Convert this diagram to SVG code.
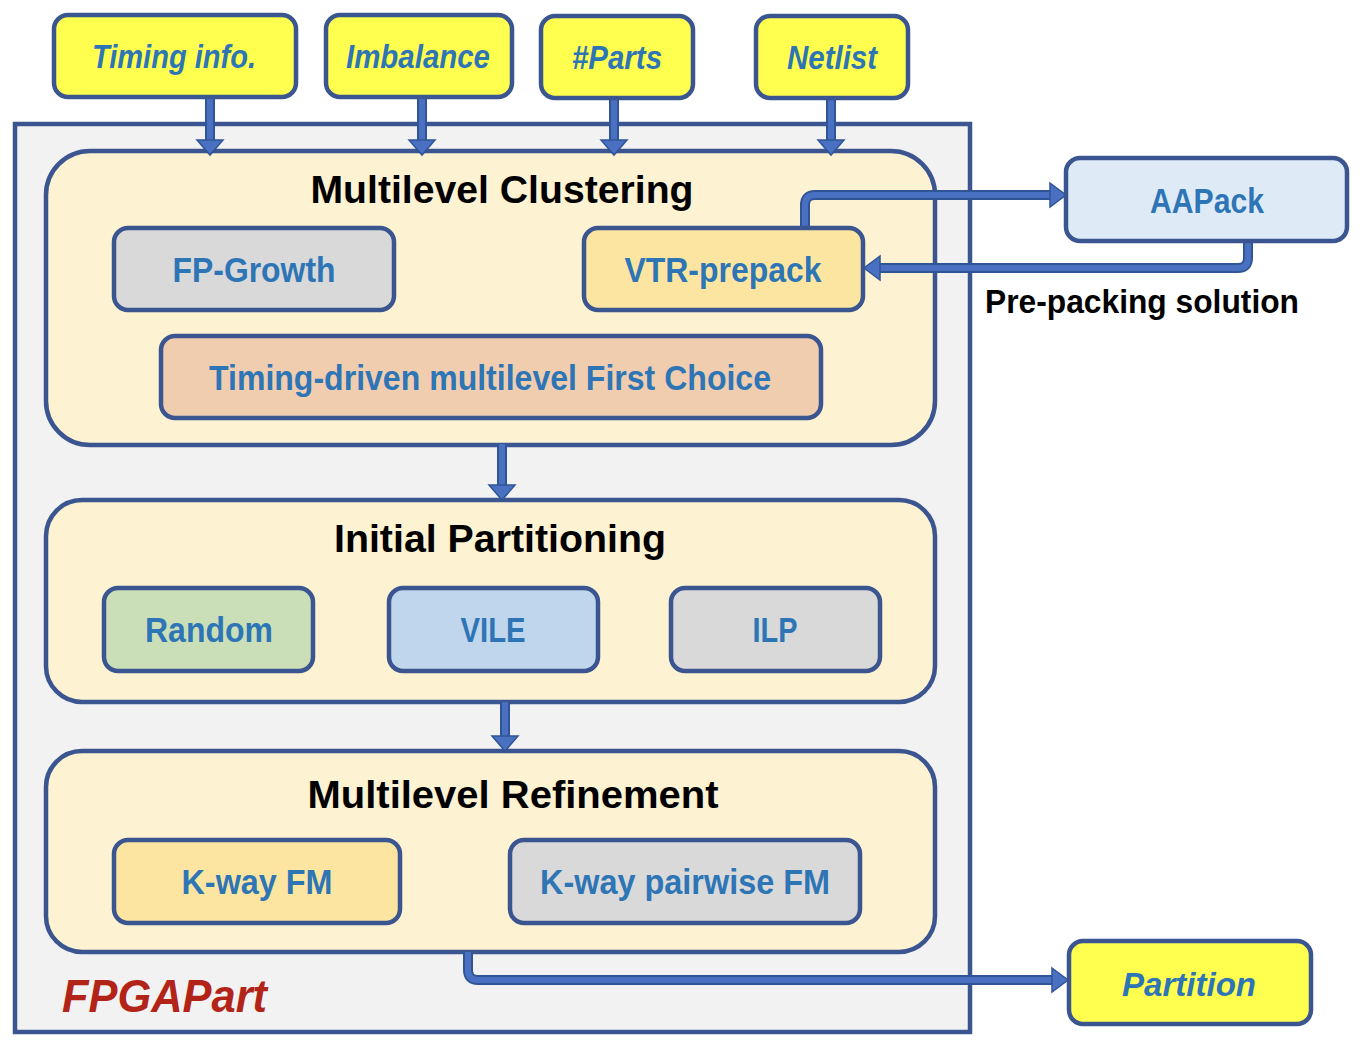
<svg xmlns="http://www.w3.org/2000/svg" width="1362" height="1050" viewBox="0 0 1362 1050">
<style>
.box{stroke:#3A5590;stroke-width:4.5}
.lbl{font-family:"Liberation Sans",Arial,sans-serif;font-weight:bold;fill:#2E75B6;text-anchor:middle}
.it{font-style:italic}
.ttl{font-family:"Liberation Sans",Arial,sans-serif;font-weight:bold;fill:#000;text-anchor:middle}
.cO{fill:none;stroke:#2F5597;stroke-width:10}
.cI{fill:none;stroke:#4A70C2;stroke-width:6}
.ah{fill:#4A70C2;stroke:#2F5597;stroke-width:1.5}
</style>
<rect width="1362" height="1050" fill="#FFFFFF"/>
<g id="fpgapart">
<rect x="15" y="124" width="955" height="908" fill="#F2F2F2" class="box"/>
<text x="62" y="1012" font-family="Liberation Sans,Arial,sans-serif" font-weight="bold" font-style="italic" font-size="46" fill="#B22418" textLength="205" lengthAdjust="spacingAndGlyphs">FPGAPart</text>
</g>
<g id="clustering">
<rect x="46" y="151" width="889" height="294" rx="44" fill="#FDF2D2" class="box"/>
<text x="502" y="203" class="ttl" font-size="38" textLength="383" lengthAdjust="spacingAndGlyphs">Multilevel Clustering</text>
</g>
<g id="initial">
<rect x="46" y="500" width="889" height="202" rx="36" fill="#FDF2D2" class="box"/>
<text x="500" y="552" class="ttl" font-size="38" textLength="332" lengthAdjust="spacingAndGlyphs">Initial Partitioning</text>
</g>
<g id="refinement">
<rect x="46" y="751" width="889" height="201" rx="36" fill="#FDF2D2" class="box"/>
<text x="513" y="808" class="ttl" font-size="38" textLength="411" lengthAdjust="spacingAndGlyphs">Multilevel Refinement</text>
</g>
<g id="connectors">
<path class="cO" d="M210 97V141M422 97V141M614 97V141M831 97V141M502 444V486M505 702V737"/>
<path class="cI" d="M210 97V141M422 97V141M614 97V141M831 97V141M502 444V486M505 702V737"/>
<path class="ah" d="M197 140H223L210 155Z"/>
<path class="ah" d="M409 140H435L422 155Z"/>
<path class="ah" d="M601 140H627L614 155Z"/>
<path class="ah" d="M818 140H844L831 155Z"/>
<path class="ah" d="M489 485H515L502 500Z"/>
<path class="ah" d="M492 736H518L505 751Z"/>
<path class="cO" d="M805 228V205Q805 195 815 195H1052"/>
<path class="cI" d="M805 228V205Q805 195 815 195H1052"/>
<path class="ah" d="M1050 183L1066 195L1050 207Z"/>
<path class="cO" d="M1248 241V258Q1248 268 1238 268H878"/>
<path class="cI" d="M1248 241V258Q1248 268 1238 268H878"/>
<path class="ah" d="M880 256L864 268L880 280Z"/>
<path class="cO" d="M468 952V970Q468 980 478 980H1054"/>
<path class="cI" d="M468 952V970Q468 980 478 980H1054"/>
<path class="ah" d="M1052 968L1068 980L1052 992Z"/>
</g>
<g id="timing-info">
<rect x="54" y="15" width="242" height="82" rx="14" fill="#FFFF4F" class="box"/>
<text x="174" y="68" class="lbl it" font-size="33" textLength="164" lengthAdjust="spacingAndGlyphs">Timing info.</text>
</g>
<g id="imbalance">
<rect x="326" y="15" width="186" height="82" rx="14" fill="#FFFF4F" class="box"/>
<text x="418" y="68" class="lbl it" font-size="33" textLength="144" lengthAdjust="spacingAndGlyphs">Imbalance</text>
</g>
<g id="parts">
<rect x="541" y="16" width="152" height="82" rx="14" fill="#FFFF4F" class="box"/>
<text x="617" y="69" class="lbl it" font-size="33" textLength="90" lengthAdjust="spacingAndGlyphs">#Parts</text>
</g>
<g id="netlist">
<rect x="756" y="16" width="152" height="82" rx="14" fill="#FFFF4F" class="box"/>
<text x="832" y="69" class="lbl it" font-size="33" textLength="90" lengthAdjust="spacingAndGlyphs">Netlist</text>
</g>
<g id="fp-growth">
<rect x="114" y="228" width="280" height="82" rx="14" fill="#D9D9D9" class="box"/>
<text x="254" y="282" class="lbl" font-size="35" textLength="163" lengthAdjust="spacingAndGlyphs">FP-Growth</text>
</g>
<g id="vtr-prepack">
<rect x="584" y="228" width="279" height="82" rx="14" fill="#FBE5A0" class="box"/>
<text x="723" y="282" class="lbl" font-size="35" textLength="197" lengthAdjust="spacingAndGlyphs">VTR-prepack</text>
</g>
<g id="first-choice">
<rect x="161" y="336" width="660" height="82" rx="14" fill="#F1CDB0" class="box"/>
<text x="490" y="390" class="lbl" font-size="35" textLength="562" lengthAdjust="spacingAndGlyphs">Timing-driven multilevel First Choice</text>
</g>
<g id="random">
<rect x="104" y="588" width="209" height="83" rx="14" fill="#CADFB8" class="box"/>
<text x="209" y="642" class="lbl" font-size="35" textLength="128" lengthAdjust="spacingAndGlyphs">Random</text>
</g>
<g id="vile">
<rect x="389" y="588" width="209" height="83" rx="14" fill="#C0D6EC" class="box"/>
<text x="493" y="642" class="lbl" font-size="35" textLength="65" lengthAdjust="spacingAndGlyphs">VILE</text>
</g>
<g id="ilp">
<rect x="671" y="588" width="209" height="83" rx="14" fill="#D9D9D9" class="box"/>
<text x="775" y="642" class="lbl" font-size="35" textLength="45" lengthAdjust="spacingAndGlyphs">ILP</text>
</g>
<g id="kway-fm">
<rect x="114" y="840" width="286" height="83" rx="14" fill="#FBE5A0" class="box"/>
<text x="257" y="894" class="lbl" font-size="35" textLength="151" lengthAdjust="spacingAndGlyphs">K-way FM</text>
</g>
<g id="kway-pairwise-fm">
<rect x="510" y="840" width="350" height="83" rx="14" fill="#D9D9D9" class="box"/>
<text x="685" y="894" class="lbl" font-size="35" textLength="290" lengthAdjust="spacingAndGlyphs">K-way pairwise FM</text>
</g>
<g id="aapack">
<rect x="1066" y="158" width="281" height="83" rx="14" fill="#DEEBF7" class="box"/>
<text x="1207" y="213" class="lbl" font-size="35" textLength="114" lengthAdjust="spacingAndGlyphs">AAPack</text>
</g>
<g id="partition">
<rect x="1069" y="941" width="242" height="83" rx="14" fill="#FFFF4F" class="box"/>
<text x="1189" y="996" class="lbl it" font-size="33" textLength="134" lengthAdjust="spacingAndGlyphs">Partition</text>
</g>
<text x="985" y="313" class="ttl" style="text-anchor:start" font-size="34" textLength="314" lengthAdjust="spacingAndGlyphs">Pre-packing solution</text>
</svg>
